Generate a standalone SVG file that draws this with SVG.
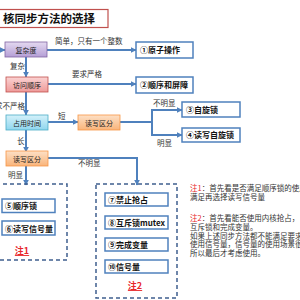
<svg xmlns="http://www.w3.org/2000/svg" width="300" height="300" viewBox="0 0 300 300">
<style>
text{font-family:"Noto Sans CJK SC","Liberation Sans",sans-serif;}
.lbl{font-size:7.5px;fill:#333;}
.res{fill:#fff;stroke:#4f81bd;stroke-width:1.5;}
.rt{font-size:8px;font-weight:bold;fill:#111;}
.bt{font-size:7px;fill:#222;}
.con{fill:none;stroke:#4f81bd;stroke-width:2;}
.dash{fill:none;stroke:#3f5f8f;stroke-width:1.5;stroke-dasharray:4,3;}
.note{font-size:7.5px;fill:#333;}
.red{fill:#e8262a;}
</style>
<defs>
<linearGradient id="gp" x1="0" y1="0" x2="0" y2="1"><stop offset="0" stop-color="#e4d9f0"/><stop offset="1" stop-color="#b59fd6"/></linearGradient>
<linearGradient id="gr" x1="0" y1="0" x2="0" y2="1"><stop offset="0" stop-color="#fbd3d3"/><stop offset="1" stop-color="#ee9a99"/></linearGradient>
<linearGradient id="gc" x1="0" y1="0" x2="0" y2="1"><stop offset="0" stop-color="#d4f1fa"/><stop offset="1" stop-color="#8fd6ee"/></linearGradient>
<linearGradient id="go" x1="0" y1="0" x2="0" y2="1"><stop offset="0" stop-color="#fde0c6"/><stop offset="1" stop-color="#f9b47a"/></linearGradient>
<marker id="ar" viewBox="0 0 10 10" refX="9" refY="5" markerWidth="3" markerHeight="3" orient="auto"><path d="M0,0 L10,5 L0,10 z" fill="#4f81bd"/></marker>
</defs>
<rect x="0" y="0" width="300" height="300" fill="#fff"/>
<g id="title">
<rect x="-2" y="9.5" width="110" height="18" fill="#fff" stroke="#c0504d" stroke-width="1.2"/>
<text x="3" y="23" font-size="11.5" font-weight="bold" fill="#111">核同步方法的选择</text>
</g>
<g id="connectors">
<path class="con" d="M-2,50 L5,50" marker-end="url(#ar)"/>
<path class="con" d="M47,50 L136,50" marker-end="url(#ar)"/>
<path class="con" d="M26,57 L26,77" marker-end="url(#ar)"/>
<path class="con" d="M48,84 L136,84" marker-end="url(#ar)"/>
<path class="con" d="M26,92 L26,115" marker-end="url(#ar)"/>
<path class="con" d="M48,122 L78,122" marker-end="url(#ar)"/>
<path class="con" d="M120,122 L152,122"/>
<path class="con" d="M152,110 L152,135"/>
<path class="con" d="M151,110 L182,110" marker-end="url(#ar)"/>
<path class="con" d="M151,135 L182,135" marker-end="url(#ar)"/>
<path class="con" d="M26,130 L26,152" marker-end="url(#ar)"/>
<path class="con" d="M48,158 L137,158 L137,185" marker-end="url(#ar)"/>
<path class="con" d="M26,166 L26,185" marker-end="url(#ar)"/>
<text class="lbl" x="55" y="44">简单，只有一个整数</text>
<text class="lbl" x="10" y="69">复杂</text>
<text class="lbl" x="72" y="77">要求严格</text>
<text class="lbl" x="25" y="109" text-anchor="end">要求不严格</text>
<text class="lbl" x="58" y="119">短</text>
<text class="lbl" x="17" y="144">长</text>
<text class="lbl" x="78" y="166">不明显</text>
<text class="lbl" x="8" y="178">明显</text>
<text class="lbl" x="153" y="106">不明显</text>
<text class="lbl" x="157" y="146">明显</text>
</g>
<g id="n-complex">
<rect x="5" y="42" width="42" height="15" fill="url(#gp)" stroke="#8064a2" stroke-width="0.8"/>
<text class="bt" x="26" y="52.5" text-anchor="middle">复杂度</text>
</g>
<g id="n-order">
<rect x="6" y="77" width="42" height="15" fill="url(#gr)" stroke="#c0504d" stroke-width="0.8"/>
<text class="bt" x="27" y="87.5" text-anchor="middle">访问顺序</text>
</g>
<g id="n-time">
<rect x="6" y="115" width="42" height="15" fill="url(#gc)" stroke="#4bacc6" stroke-width="0.8"/>
<text class="bt" x="27" y="125.5" text-anchor="middle">占用时间</text>
</g>
<g id="n-rw1">
<rect x="78" y="115" width="42" height="15" fill="url(#go)" stroke="#f79646" stroke-width="0.8"/>
<text class="bt" x="99" y="125.5" text-anchor="middle">读写区分</text>
</g>
<g id="n-rw2">
<rect x="6" y="151" width="42" height="15" fill="url(#go)" stroke="#f79646" stroke-width="0.8"/>
<text class="bt" x="27" y="161.5" text-anchor="middle">读写区分</text>
</g>
<g id="r1"><rect class="res" x="136" y="42" width="57" height="16"/><text class="rt" x="140" y="53">①原子操作</text></g>
<g id="r2"><rect class="res" x="136" y="77" width="57" height="16"/><text class="rt" x="140" y="88">②顺序和屏障</text></g>
<g id="r3"><rect class="res" x="182" y="102" width="58" height="15"/><text class="rt" x="186" y="112.5">③自旋锁</text></g>
<g id="r4"><rect class="res" x="182" y="128" width="58" height="14"/><text class="rt" x="186" y="138">④读写自旋锁</text></g>
<g id="group1">
<rect class="dash" x="-4" y="184" width="71" height="76"/>
<g id="r5"><rect class="res" x="2" y="199" width="53" height="13.5"/><text class="rt" x="5" y="209">⑤顺序锁</text></g>
<g id="r6"><rect class="res" x="2" y="221" width="53" height="14"/><text class="rt" x="5" y="231.5">⑥读写信号量</text></g>
<text x="22" y="254" font-size="9" font-weight="bold" fill="#e8262a" text-anchor="middle" text-decoration="underline">注1</text>
</g>
<g id="group2">
<rect class="dash" x="96" y="184" width="81" height="114"/>
<g id="r7"><rect class="res" x="105" y="193" width="63" height="13"/><text class="rt" x="108" y="202.5">⑦禁止抢占</text></g>
<g id="r8"><rect class="res" x="105" y="216" width="63" height="13"/><text class="rt" x="108" y="225.5">⑧互斥锁mutex</text></g>
<g id="r9"><rect class="res" x="105" y="238" width="63" height="13"/><text class="rt" x="108" y="247.5">⑨完成变量</text></g>
<g id="r10"><rect class="res" x="105" y="260" width="63" height="13"/><text class="rt" x="108" y="269.5">⑩信号量</text></g>
<text x="135" y="289" font-size="9" font-weight="bold" fill="#e8262a" text-anchor="middle" text-decoration="underline">注2</text>
</g>
<g id="notes">
<text class="note" x="190" y="191"><tspan class="red">注1</tspan>：首先看是否满足顺序锁的使用</text>
<text class="note" x="190" y="200">满足再选择读写信号量</text>
<text class="note" x="190" y="221"><tspan class="red">注2</tspan>：首先看能否使用内核抢占，</text>
<text class="note" x="190" y="230">互斥锁和完成变量。</text>
<text class="note" x="190" y="238.5">如果上述同步方法都不能满足要求</text>
<text class="note" x="190" y="247">使用信号量，信号量的使用场景很</text>
<text class="note" x="190" y="255.5">所以最后才考虑使用。</text>
</g>
</svg>
